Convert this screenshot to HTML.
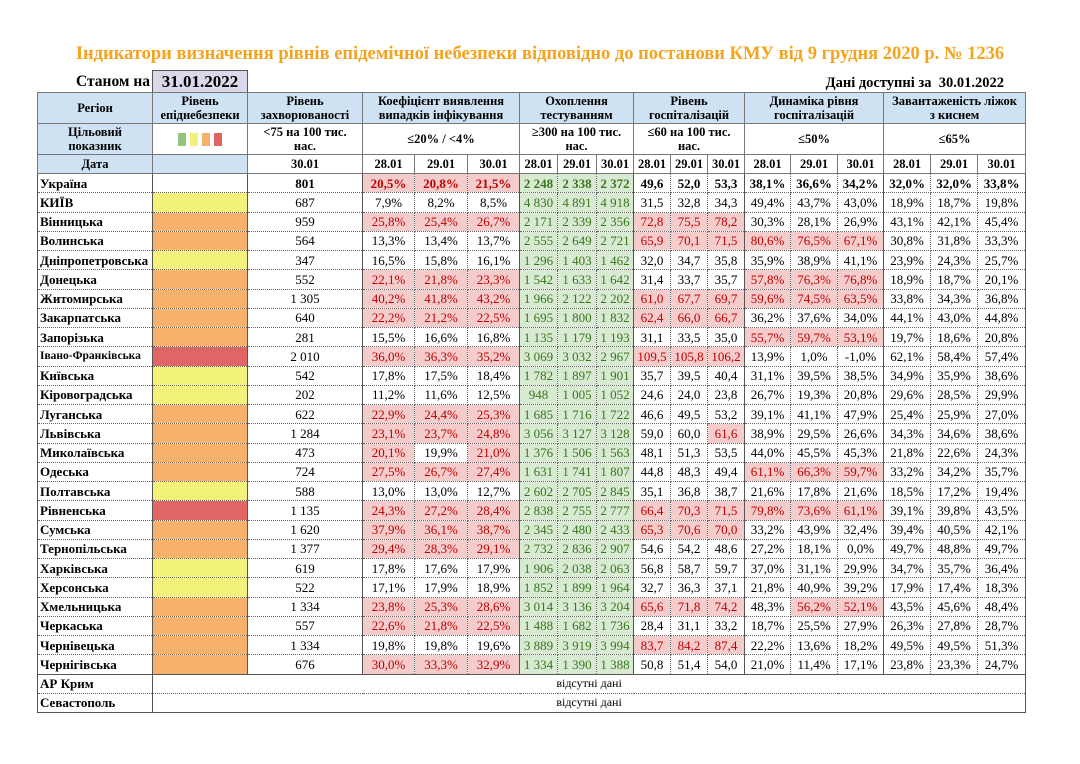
<!DOCTYPE html>
<html><head><meta charset="utf-8">
<style>
body{margin:0;background:#fff;width:1080px;height:764px;position:relative;font-family:"Liberation Serif",serif;overflow:hidden}
.title{position:absolute;top:44px;left:0;width:1080px;text-align:center;color:#f5a31c;font-weight:bold;font-size:18.5px}
.st{position:absolute;top:73px;left:76px;font-weight:bold;font-size:15.5px}
.db{position:absolute;top:70px;left:152px;width:94px;height:21px;background:#ddd7ea;border:1px solid #555;border-bottom:none;font-weight:bold;font-size:17px;text-align:center;line-height:22px}
.da{position:absolute;top:75px;right:76px;font-weight:bold;font-size:14.5px}
table{position:absolute;left:37px;top:92px;border-collapse:collapse;table-layout:fixed;width:988px;border:1.5px solid #555}
td{border:1px dotted #666;padding:0;text-align:center;font-size:13px;white-space:nowrap;overflow:hidden;line-height:17px}
tr.h td{background:#cfe2f3;font-weight:bold;font-size:12.5px;line-height:14px;border:1px solid #777}
tr.h2 td{font-weight:bold;font-size:12.5px;line-height:14px;border:1px solid #777}
tr.h3 td{font-weight:bold;font-size:12.5px;border:1px solid #777}
tr.d{height:19.25px}
td.n{text-align:left;font-weight:bold;padding-left:2px;border-right:1px solid #555}
td.s{border-left:1px solid #555}
td.b{background:#cfe2f3}
.r{background:#f4cccc;color:#c00000}
.g{background:#d9ead3;color:#38761d}
.Y{background:#f2f27a}.O{background:#f6b26b}.R{background:#e06666}
tr.u td{font-weight:bold}
.sq{display:inline-block;width:8px;height:13px;margin:0 2px;vertical-align:middle}
</style></head><body>
<div class="title">Індикатори визначення рівнів епідемічної небезпеки відповідно до постанови КМУ від 9 грудня 2020 р. № 1236</div>
<div class="st">Станом на</div>
<div class="db">31.01.2022</div>
<div class="da">Дані доступні за&nbsp; 30.01.2022</div>
<table>
<colgroup><col style="width:115px"><col style="width:95px"><col style="width:115px"><col style="width:52px"><col style="width:53px"><col style="width:52px"><col style="width:38px"><col style="width:39px"><col style="width:37px"><col style="width:37px"><col style="width:37px"><col style="width:37px"><col style="width:46px"><col style="width:47px"><col style="width:46px"><col style="width:47px"><col style="width:47px"><col style="width:48px"></colgroup>
<tr class="h" style="height:31px"><td>Регіон</td><td>Рівень<br>епіднебезпеки</td><td>Рівень<br>захворюваності</td><td colspan="3">Коефіцієнт виявлення<br>випадків інфікування</td><td colspan="3">Охоплення<br>тестуванням</td><td colspan="3">Рівень<br>госпіталізацій</td><td colspan="3">Динаміка рівня<br>госпіталізацій</td><td colspan="3">Завантаженість ліжок<br>з киснем</td></tr>
<tr class="h2" style="height:31px"><td class="b">Цільовий<br>показник</td><td><span class="sq" style="background:#93c47d"></span><span class="sq" style="background:#f2f27a"></span><span class="sq" style="background:#f6b26b"></span><span class="sq" style="background:#e06666"></span></td><td>&lt;75 на 100 тис.<br>нас.</td><td colspan="3">≤20% / &lt;4%</td><td colspan="3">≥300 на 100 тис.<br>нас.</td><td colspan="3">≤60 на 100 тис.<br>нас.</td><td colspan="3">≤50%</td><td colspan="3">≤65%</td></tr>
<tr class="h3" style="height:19px"><td class="b">Дата</td><td class="b"></td><td>30.01</td><td>28.01</td><td>29.01</td><td>30.01</td><td>28.01</td><td>29.01</td><td>30.01</td><td>28.01</td><td>29.01</td><td>30.01</td><td>28.01</td><td>29.01</td><td>30.01</td><td>28.01</td><td>29.01</td><td>30.01</td></tr>
<tr class="d u"><td class="n">Україна</td><td class="s"></td><td class="s">801</td><td class="s r">20,5%</td><td class="r">20,8%</td><td class="r">21,5%</td><td class="s g">2 248</td><td class="g">2 338</td><td class="g">2 372</td><td class="s">49,6</td><td>52,0</td><td>53,3</td><td class="s">38,1%</td><td>36,6%</td><td>34,2%</td><td class="s">32,0%</td><td>32,0%</td><td>33,8%</td></tr>
<tr class="d"><td class="n">КИЇВ</td><td class="s Y"></td><td class="s">687</td><td class="s">7,9%</td><td>8,2%</td><td>8,5%</td><td class="s g">4 830</td><td class="g">4 891</td><td class="g">4 918</td><td class="s">31,5</td><td>32,8</td><td>34,3</td><td class="s">49,4%</td><td>43,7%</td><td>43,0%</td><td class="s">18,9%</td><td>18,7%</td><td>19,8%</td></tr>
<tr class="d"><td class="n">Вінницька</td><td class="s O"></td><td class="s">959</td><td class="s r">25,8%</td><td class="r">25,4%</td><td class="r">26,7%</td><td class="s g">2 171</td><td class="g">2 339</td><td class="g">2 356</td><td class="s r">72,8</td><td class="r">75,5</td><td class="r">78,2</td><td class="s">30,3%</td><td>28,1%</td><td>26,9%</td><td class="s">43,1%</td><td>42,1%</td><td>45,4%</td></tr>
<tr class="d"><td class="n">Волинська</td><td class="s O"></td><td class="s">564</td><td class="s">13,3%</td><td>13,4%</td><td>13,7%</td><td class="s g">2 555</td><td class="g">2 649</td><td class="g">2 721</td><td class="s r">65,9</td><td class="r">70,1</td><td class="r">71,5</td><td class="s r">80,6%</td><td class="r">76,5%</td><td class="r">67,1%</td><td class="s">30,8%</td><td>31,8%</td><td>33,3%</td></tr>
<tr class="d"><td class="n">Дніпропетровська</td><td class="s Y"></td><td class="s">347</td><td class="s">16,5%</td><td>15,8%</td><td>16,1%</td><td class="s g">1 296</td><td class="g">1 403</td><td class="g">1 462</td><td class="s">32,0</td><td>34,7</td><td>35,8</td><td class="s">35,9%</td><td>38,9%</td><td>41,1%</td><td class="s">23,9%</td><td>24,3%</td><td>25,7%</td></tr>
<tr class="d"><td class="n">Донецька</td><td class="s O"></td><td class="s">552</td><td class="s r">22,1%</td><td class="r">21,8%</td><td class="r">23,3%</td><td class="s g">1 542</td><td class="g">1 633</td><td class="g">1 642</td><td class="s">31,4</td><td>33,7</td><td>35,7</td><td class="s r">57,8%</td><td class="r">76,3%</td><td class="r">76,8%</td><td class="s">18,9%</td><td>18,7%</td><td>20,1%</td></tr>
<tr class="d"><td class="n">Житомирська</td><td class="s O"></td><td class="s">1 305</td><td class="s r">40,2%</td><td class="r">41,8%</td><td class="r">43,2%</td><td class="s g">1 966</td><td class="g">2 122</td><td class="g">2 202</td><td class="s r">61,0</td><td class="r">67,7</td><td class="r">69,7</td><td class="s r">59,6%</td><td class="r">74,5%</td><td class="r">63,5%</td><td class="s">33,8%</td><td>34,3%</td><td>36,8%</td></tr>
<tr class="d"><td class="n">Закарпатська</td><td class="s O"></td><td class="s">640</td><td class="s r">22,2%</td><td class="r">21,2%</td><td class="r">22,5%</td><td class="s g">1 695</td><td class="g">1 800</td><td class="g">1 832</td><td class="s r">62,4</td><td class="r">66,0</td><td class="r">66,7</td><td class="s">36,2%</td><td>37,6%</td><td>34,0%</td><td class="s">44,1%</td><td>43,0%</td><td>44,8%</td></tr>
<tr class="d"><td class="n">Запорізька</td><td class="s O"></td><td class="s">281</td><td class="s">15,5%</td><td>16,6%</td><td>16,8%</td><td class="s g">1 135</td><td class="g">1 179</td><td class="g">1 193</td><td class="s">31,1</td><td>33,5</td><td>35,0</td><td class="s r">55,7%</td><td class="r">59,7%</td><td class="r">53,1%</td><td class="s">19,7%</td><td>18,6%</td><td>20,8%</td></tr>
<tr class="d"><td class="n" style="font-size:11.5px">Івано-Франківська</td><td class="s R"></td><td class="s">2 010</td><td class="s r">36,0%</td><td class="r">36,3%</td><td class="r">35,2%</td><td class="s g">3 069</td><td class="g">3 032</td><td class="g">2 967</td><td class="s r">109,5</td><td class="r">105,8</td><td class="r">106,2</td><td class="s">13,9%</td><td>1,0%</td><td>-1,0%</td><td class="s">62,1%</td><td>58,4%</td><td>57,4%</td></tr>
<tr class="d"><td class="n">Київська</td><td class="s Y"></td><td class="s">542</td><td class="s">17,8%</td><td>17,5%</td><td>18,4%</td><td class="s g">1 782</td><td class="g">1 897</td><td class="g">1 901</td><td class="s">35,7</td><td>39,5</td><td>40,4</td><td class="s">31,1%</td><td>39,5%</td><td>38,5%</td><td class="s">34,9%</td><td>35,9%</td><td>38,6%</td></tr>
<tr class="d"><td class="n">Кіровоградська</td><td class="s Y"></td><td class="s">202</td><td class="s">11,2%</td><td>11,6%</td><td>12,5%</td><td class="s g">948</td><td class="g">1 005</td><td class="g">1 052</td><td class="s">24,6</td><td>24,0</td><td>23,8</td><td class="s">26,7%</td><td>19,3%</td><td>20,8%</td><td class="s">29,6%</td><td>28,5%</td><td>29,9%</td></tr>
<tr class="d"><td class="n">Луганська</td><td class="s O"></td><td class="s">622</td><td class="s r">22,9%</td><td class="r">24,4%</td><td class="r">25,3%</td><td class="s g">1 685</td><td class="g">1 716</td><td class="g">1 722</td><td class="s">46,6</td><td>49,5</td><td>53,2</td><td class="s">39,1%</td><td>41,1%</td><td>47,9%</td><td class="s">25,4%</td><td>25,9%</td><td>27,0%</td></tr>
<tr class="d"><td class="n">Львівська</td><td class="s O"></td><td class="s">1 284</td><td class="s r">23,1%</td><td class="r">23,7%</td><td class="r">24,8%</td><td class="s g">3 056</td><td class="g">3 127</td><td class="g">3 128</td><td class="s">59,0</td><td>60,0</td><td class="r">61,6</td><td class="s">38,9%</td><td>29,5%</td><td>26,6%</td><td class="s">34,3%</td><td>34,6%</td><td>38,6%</td></tr>
<tr class="d"><td class="n">Миколаївська</td><td class="s O"></td><td class="s">473</td><td class="s r">20,1%</td><td>19,9%</td><td class="r">21,0%</td><td class="s g">1 376</td><td class="g">1 506</td><td class="g">1 563</td><td class="s">48,1</td><td>51,3</td><td>53,5</td><td class="s">44,0%</td><td>45,5%</td><td>45,3%</td><td class="s">21,8%</td><td>22,6%</td><td>24,3%</td></tr>
<tr class="d"><td class="n">Одеська</td><td class="s O"></td><td class="s">724</td><td class="s r">27,5%</td><td class="r">26,7%</td><td class="r">27,4%</td><td class="s g">1 631</td><td class="g">1 741</td><td class="g">1 807</td><td class="s">44,8</td><td>48,3</td><td>49,4</td><td class="s r">61,1%</td><td class="r">66,3%</td><td class="r">59,7%</td><td class="s">33,2%</td><td>34,2%</td><td>35,7%</td></tr>
<tr class="d"><td class="n">Полтавська</td><td class="s Y"></td><td class="s">588</td><td class="s">13,0%</td><td>13,0%</td><td>12,7%</td><td class="s g">2 602</td><td class="g">2 705</td><td class="g">2 845</td><td class="s">35,1</td><td>36,8</td><td>38,7</td><td class="s">21,6%</td><td>17,8%</td><td>21,6%</td><td class="s">18,5%</td><td>17,2%</td><td>19,4%</td></tr>
<tr class="d"><td class="n">Рівненська</td><td class="s R"></td><td class="s">1 135</td><td class="s r">24,3%</td><td class="r">27,2%</td><td class="r">28,4%</td><td class="s g">2 838</td><td class="g">2 755</td><td class="g">2 777</td><td class="s r">66,4</td><td class="r">70,3</td><td class="r">71,5</td><td class="s r">79,8%</td><td class="r">73,6%</td><td class="r">61,1%</td><td class="s">39,1%</td><td>39,8%</td><td>43,5%</td></tr>
<tr class="d"><td class="n">Сумська</td><td class="s O"></td><td class="s">1 620</td><td class="s r">37,9%</td><td class="r">36,1%</td><td class="r">38,7%</td><td class="s g">2 345</td><td class="g">2 480</td><td class="g">2 433</td><td class="s r">65,3</td><td class="r">70,6</td><td class="r">70,0</td><td class="s">33,2%</td><td>43,9%</td><td>32,4%</td><td class="s">39,4%</td><td>40,5%</td><td>42,1%</td></tr>
<tr class="d"><td class="n">Тернопільська</td><td class="s O"></td><td class="s">1 377</td><td class="s r">29,4%</td><td class="r">28,3%</td><td class="r">29,1%</td><td class="s g">2 732</td><td class="g">2 836</td><td class="g">2 907</td><td class="s">54,6</td><td>54,2</td><td>48,6</td><td class="s">27,2%</td><td>18,1%</td><td>0,0%</td><td class="s">49,7%</td><td>48,8%</td><td>49,7%</td></tr>
<tr class="d"><td class="n">Харківська</td><td class="s Y"></td><td class="s">619</td><td class="s">17,8%</td><td>17,6%</td><td>17,9%</td><td class="s g">1 906</td><td class="g">2 038</td><td class="g">2 063</td><td class="s">56,8</td><td>58,7</td><td>59,7</td><td class="s">37,0%</td><td>31,1%</td><td>29,9%</td><td class="s">34,7%</td><td>35,7%</td><td>36,4%</td></tr>
<tr class="d"><td class="n">Херсонська</td><td class="s Y"></td><td class="s">522</td><td class="s">17,1%</td><td>17,9%</td><td>18,9%</td><td class="s g">1 852</td><td class="g">1 899</td><td class="g">1 964</td><td class="s">32,7</td><td>36,3</td><td>37,1</td><td class="s">21,8%</td><td>40,9%</td><td>39,2%</td><td class="s">17,9%</td><td>17,4%</td><td>18,3%</td></tr>
<tr class="d"><td class="n">Хмельницька</td><td class="s O"></td><td class="s">1 334</td><td class="s r">23,8%</td><td class="r">25,3%</td><td class="r">28,6%</td><td class="s g">3 014</td><td class="g">3 136</td><td class="g">3 204</td><td class="s r">65,6</td><td class="r">71,8</td><td class="r">74,2</td><td class="s">48,3%</td><td class="r">56,2%</td><td class="r">52,1%</td><td class="s">43,5%</td><td>45,6%</td><td>48,4%</td></tr>
<tr class="d"><td class="n">Черкаська</td><td class="s O"></td><td class="s">557</td><td class="s r">22,6%</td><td class="r">21,8%</td><td class="r">22,5%</td><td class="s g">1 488</td><td class="g">1 682</td><td class="g">1 736</td><td class="s">28,4</td><td>31,1</td><td>33,2</td><td class="s">18,7%</td><td>25,5%</td><td>27,9%</td><td class="s">26,3%</td><td>27,8%</td><td>28,7%</td></tr>
<tr class="d"><td class="n">Чернівецька</td><td class="s O"></td><td class="s">1 334</td><td class="s">19,8%</td><td>19,8%</td><td>19,6%</td><td class="s g">3 889</td><td class="g">3 919</td><td class="g">3 994</td><td class="s r">83,7</td><td class="r">84,2</td><td class="r">87,4</td><td class="s">22,2%</td><td>13,6%</td><td>18,2%</td><td class="s">49,5%</td><td>49,5%</td><td>51,3%</td></tr>
<tr class="d"><td class="n">Чернігівська</td><td class="s O"></td><td class="s">676</td><td class="s r">30,0%</td><td class="r">33,3%</td><td class="r">32,9%</td><td class="s g">1 334</td><td class="g">1 390</td><td class="g">1 388</td><td class="s">50,8</td><td>51,4</td><td>54,0</td><td class="s">21,0%</td><td>11,4%</td><td>17,1%</td><td class="s">23,8%</td><td>23,3%</td><td>24,7%</td></tr>
<tr class="d"><td class="n" style="border-top:1px solid #555">АР Крим</td><td colspan="17" style="border-top:1px solid #555;border-left:1px solid #555;font-size:12px">відсутні дані</td></tr>
<tr class="d"><td class="n">Севастополь</td><td colspan="17" style="border-left:1px solid #555;font-size:12px">відсутні дані</td></tr>
</table>
</body></html>
